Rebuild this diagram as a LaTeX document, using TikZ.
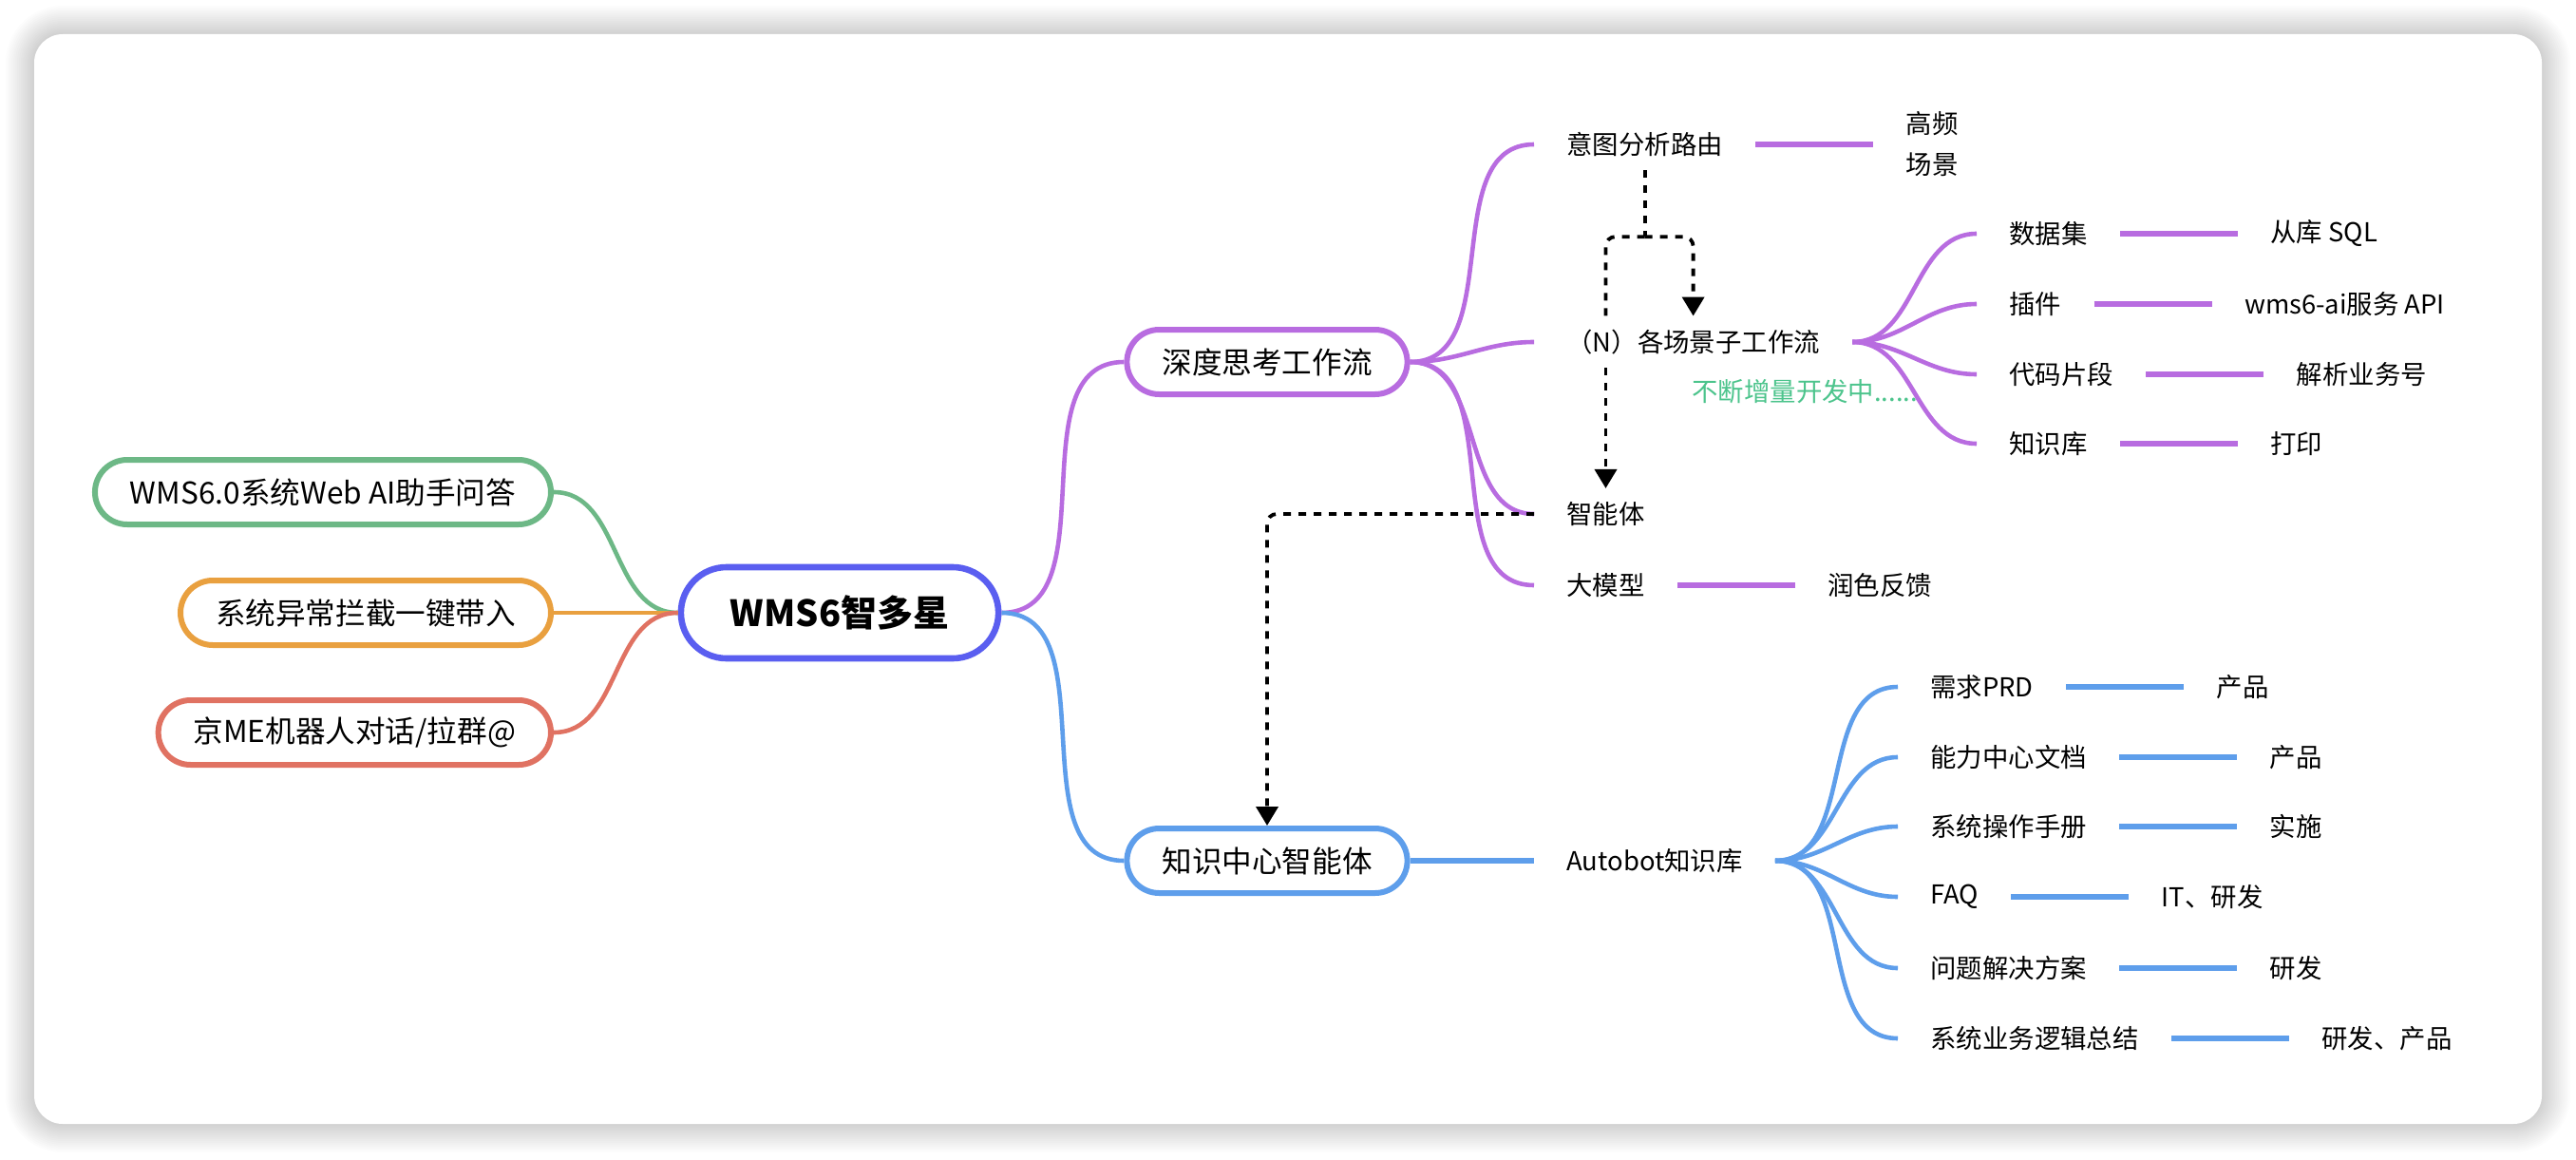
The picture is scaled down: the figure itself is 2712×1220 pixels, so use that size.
\documentclass[tikz,border=0pt]{standalone}
\usepackage{fontspec}
\setmainfont{Noto Sans CJK SC}
\usetikzlibrary{positioning, arrows.meta, calc}
\definecolor{mapviolet}{RGB}{184,108,224}
\definecolor{mapindigo}{RGB}{90,94,240}
\definecolor{mapblue}{RGB}{94,158,235}
\definecolor{mapgreen}{RGB}{109,184,134}
\definecolor{maporange}{RGB}{233,160,63}
\definecolor{mapred}{RGB}{224,114,98}
\definecolor{mapmint}{RGB}{76,196,140}

\begin{document}
\begin{tikzpicture}[x=0.5pt, y=-0.5pt,
    box/.style={draw, fill=white, line width=3pt, rounded corners=17pt, minimum height=34pt,
      inner xsep=18.5pt, font=\fontsize{15.8}{18}\selectfont},
    rootbox/.style={box, draw=mapindigo, line width=3.3pt, rounded corners=24pt, minimum height=48pt,
      inner xsep=26pt, font=\bfseries\fontsize{19}{22}\selectfont},
    topic/.style={inner xsep=17pt, inner ysep=7pt, font=\fontsize{13.7}{16}\selectfont},
    branch/.style={line width=2.3pt, out=0, in=180},
    leafline/.style={line width=3.2pt},
    dashline/.style={line width=1.9pt, dash pattern=on 4pt off 4pt, rounded corners=5pt},
    dasharrow/.style={dashline, -{Triangle[width=11.5pt, length=10pt]}}]
  % card and its shadow
  \useasboundingbox (0,0) rectangle (2712,1220);
  \fill[white] (0,0) rectangle (2712,1220);
  \foreach \s [evaluate=\s as \r using 15+0.5*\s] in {2,4,...,30}
    \fill[black, opacity=0.011, rounded corners=\r pt] (36-\s,36-\s) rectangle (2676+\s,1183+\s);
  \fill[white, rounded corners=15pt] (36,36) rectangle (2676,1183);

  % centre and left side
  \node[rootbox] (root) at (884,645) {WMS6智多星};
  \node[box, draw=mapgreen, anchor=east] (webqa) at (583,518) {WMS6.0系统Web AI助手问答};
  \node[box, draw=maporange, anchor=east] (intercept) at (583,645) {系统异常拦截一键带入};
  \node[box, draw=mapred, anchor=east] (robot) at (583,771) {京ME机器人对话/拉群@};
  \draw[mapgreen, branch] (webqa.east) to (root.west);
  \draw[maporange, branch] (intercept.east) to (root.west);
  \draw[mapred, branch] (robot.east) to (root.west);

  % deep thinking workflow
  \node[box, draw=mapviolet] (deep) at (1334,381) {深度思考工作流};
  \node[topic, anchor=west] (intent) at (1615,152) {意图分析路由};
  \node[topic, anchor=west] (flow) at (1615,360) {（N）各场景子工作流};
  \node[topic, anchor=west] (agent) at (1615,541) {智能体};
  \node[topic, anchor=west] (model) at (1615,616) {大模型};
  \node[topic, right=62pt of intent, align=left, inner ysep=0pt,
    font=\fontsize{13.7}{21.5}\selectfont] (hot) {高频\\场景};
  \node[topic, right=62pt of model] (polish) {润色反馈};
  \node[text=mapmint, anchor=west, inner sep=0pt, font=\fontsize{13.7}{16}\selectfont]
    (growing) at (1781,412) {不断增量开发中......};
  \draw[mapviolet, branch] (root.east) to (deep.west);
  \draw[mapviolet, branch] (deep.east) to (intent.west);
  \draw[mapviolet, branch] (deep.east) to (flow.west);
  \draw[mapviolet, branch] (deep.east) to (agent.west);
  \draw[mapviolet, branch] (deep.east) to (model.west);
  \draw[mapviolet, leafline] (intent.east) -- (hot.west);
  \draw[mapviolet, leafline] (model.east) -- (polish.west);

  % scene sub-workflows
  \node[topic, anchor=west] (dataset) at (2081,246) {数据集};
  \node[topic, anchor=west] (plugin) at (2081,320) {插件};
  \node[topic, anchor=west] (snippet) at (2081,394) {代码片段};
  \node[topic, anchor=west] (kbase) at (2081,467) {知识库};
  \node[topic, right=62pt of dataset] (sql) {从库 SQL};
  \node[topic, right=62pt of plugin] (api) {wms6-ai服务 API};
  \node[topic, right=62pt of snippet] (parse) {解析业务号};
  \node[topic, right=62pt of kbase] (print) {打印};
  \draw[mapviolet, branch] (flow.east) to (dataset.west);
  \draw[mapviolet, branch] (flow.east) to (plugin.west);
  \draw[mapviolet, branch] (flow.east) to (snippet.west);
  \draw[mapviolet, branch] (flow.east) to (kbase.west);
  \draw[mapviolet, leafline] (dataset.east) -- (sql.west);
  \draw[mapviolet, leafline] (plugin.east) -- (api.west);
  \draw[mapviolet, leafline] (snippet.east) -- (parse.west);
  \draw[mapviolet, leafline] (kbase.east) -- (print.west);

  % knowledge centre agent
  \node[box, draw=mapblue] (know) at (1334,906) {知识中心智能体};
  \node[topic, anchor=west] (autobot) at (know.east -| 1615,0) {Autobot知识库};
  \node[topic, anchor=west] (prd) at (1998,723) {需求PRD};
  \node[topic, anchor=west] (centre) at (1998,797) {能力中心文档};
  \node[topic, anchor=west] (manual) at (1998,870) {系统操作手册};
  \node[topic, anchor=west] (faq) at (1998,944) {FAQ};
  \node[topic, anchor=west] (solution) at (1998,1019) {问题解决方案};
  \node[topic, anchor=west] (logic) at (1998,1093) {系统业务逻辑总结};
  \node[topic, right=62pt of prd] (prdown) {产品};
  \node[topic, right=62pt of centre] (centreown) {产品};
  \node[topic, right=62pt of manual] (manualown) {实施};
  \node[topic, right=62pt of faq] (faqown) {IT、研发};
  \node[topic, right=62pt of solution] (solutionown) {研发};
  \node[topic, right=62pt of logic] (logicown) {研发、产品};
  \draw[mapblue, branch] (root.east) to (know.west);
  \draw[mapblue, leafline] (know.east) -- (autobot.west);
  \draw[mapblue, branch] (autobot.east) to (prd.west);
  \draw[mapblue, branch] (autobot.east) to (centre.west);
  \draw[mapblue, branch] (autobot.east) to (manual.west);
  \draw[mapblue, branch] (autobot.east) to (faq.west);
  \draw[mapblue, branch] (autobot.east) to (solution.west);
  \draw[mapblue, branch] (autobot.east) to (logic.west);
  \draw[mapblue, leafline] (prd.east) -- (prdown.west);
  \draw[mapblue, leafline] (centre.east) -- (centreown.west);
  \draw[mapblue, leafline] (manual.east) -- (manualown.west);
  \draw[mapblue, leafline] (faq.east) -- (faqown.west);
  \draw[mapblue, leafline] (solution.east) -- (solutionown.west);
  \draw[mapblue, leafline] (logic.east) -- (logicown.west);

  % dashed call flow
  \coordinate (fork) at ($(intent.south)+(0,70)$);
  \draw[dashline] (intent.south) -- (fork);
  \draw[dashline] (fork) -| (agent.north |- flow.north);
  \draw[dasharrow] (fork) -| (flow.north);
  \draw[dasharrow] (agent.north |- flow.south) -- (agent.north);
  \draw[dasharrow] (agent.west) -| (know.north);
\end{tikzpicture}
\end{document}
